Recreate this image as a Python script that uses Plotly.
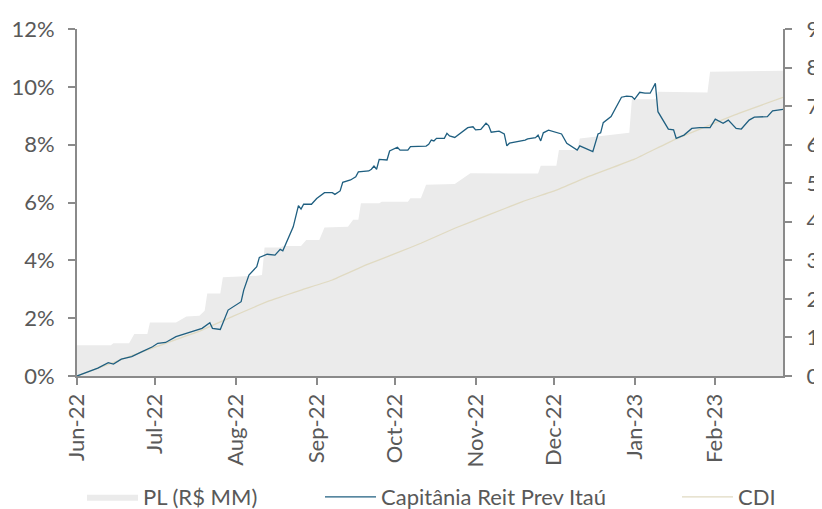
import plotly.graph_objects as go

# ---- data ----
fund_dates = ["2022-06-01","2022-06-09","2022-06-13","2022-06-15","2022-06-18","2022-06-22","2022-06-26","2022-06-30",
              "2022-07-02","2022-07-05","2022-07-09","2022-07-13","2022-07-17","2022-07-19","2022-07-22","2022-07-23",
              "2022-07-26","2022-07-29","2022-08-03","2022-08-04","2022-08-06","2022-08-09","2022-08-10","2022-08-13",
              "2022-08-16","2022-08-18","2022-08-19","2022-08-23","2022-08-25","2022-08-26","2022-08-27","2022-08-30",
              "2022-09-01","2022-09-04","2022-09-07","2022-09-08","2022-09-10","2022-09-11","2022-09-14","2022-09-16",
              "2022-09-17","2022-09-21","2022-09-22","2022-09-23","2022-09-24","2022-09-25","2022-09-28","2022-09-29",
              "2022-10-02","2022-10-03","2022-10-06","2022-10-07","2022-10-13","2022-10-14","2022-10-15","2022-10-16",
              "2022-10-17","2022-10-20","2022-10-21","2022-10-22","2022-10-24","2022-10-29","2022-10-31","2022-11-01",
              "2022-11-03","2022-11-05","2022-11-06","2022-11-07","2022-11-10","2022-11-12","2022-11-13","2022-11-14",
              "2022-11-20","2022-11-21","2022-11-24","2022-11-25","2022-11-26","2022-11-27","2022-11-29","2022-12-04",
              "2022-12-06","2022-12-10","2022-12-11","2022-12-13","2022-12-16","2022-12-18","2022-12-19","2022-12-20",
              "2022-12-23","2022-12-27","2022-12-29","2022-12-31","2023-01-01","2023-01-03","2023-01-05","2023-01-07",
              "2023-01-09","2023-01-10","2023-01-12","2023-01-14","2023-01-16","2023-01-17","2023-01-20","2023-01-23",
              "2023-01-26","2023-01-30","2023-02-01","2023-02-04","2023-02-06","2023-02-09","2023-02-11","2023-02-14",
              "2023-02-16","2023-02-21","2023-02-23","2023-02-27"]
fund_pct = [0.00,0.27,0.46,0.41,0.58,0.67,0.84,1.01,
            1.13,1.16,1.36,1.48,1.61,1.65,1.84,1.65,
            1.61,2.28,2.57,2.97,3.49,3.78,4.10,4.21,
            4.18,4.38,4.33,5.16,5.89,5.77,5.94,5.94,
            6.14,6.34,6.34,6.28,6.40,6.70,6.78,6.89,
            7.06,7.09,7.15,7.26,7.15,7.49,7.47,7.78,
            7.91,7.81,7.81,7.93,7.95,8.01,8.16,8.13,
            8.22,8.22,8.39,8.30,8.25,8.59,8.62,8.51,
            8.53,8.74,8.66,8.43,8.47,8.37,7.96,8.05,
            8.16,8.20,8.24,8.33,8.13,8.41,8.50,8.37,
            8.05,7.81,7.96,7.87,7.76,8.37,8.41,8.76,
            8.97,9.64,9.68,9.66,9.57,9.81,9.78,9.78,
            10.12,9.14,8.85,8.54,8.51,8.22,8.33,8.56,
            8.59,8.59,8.88,8.74,8.85,8.56,8.54,8.85,
            8.95,8.97,9.17,9.22]

cdi_dates = ["2022-06-01","2022-06-13","2022-07-01","2022-07-18","2022-07-31","2022-08-13","2022-08-26",
             "2022-09-07","2022-09-20","2022-10-03","2022-10-11","2022-10-24","2022-11-06","2022-11-19",
             "2022-12-02","2022-12-15","2023-01-01","2023-01-16","2023-02-10","2023-02-27"]
cdi_pct = [0.00,0.40,1.00,1.55,2.07,2.57,2.97,
           3.32,3.84,4.30,4.59,5.11,5.57,6.03,
           6.43,6.92,7.50,8.16,9.08,9.64]

pl_dates = ["2022-06-01","2022-06-14","2022-06-15","2022-06-21","2022-06-23","2022-06-28","2022-06-29",
            "2022-07-09","2022-07-13","2022-07-18","2022-07-20","2022-07-21","2022-07-26","2022-07-27",
            "2022-08-09","2022-08-11","2022-08-12","2022-08-18","2022-08-19","2022-08-26","2022-08-28",
            "2022-09-02","2022-09-04","2022-09-13","2022-09-15","2022-09-17","2022-09-18","2022-09-25",
            "2022-09-26","2022-10-06","2022-10-07","2022-10-11","2022-10-13","2022-10-24","2022-10-30",
            "2022-11-25","2022-11-26","2022-12-02","2022-12-03","2022-12-10","2022-12-11","2022-12-30",
            "2022-12-31","2023-01-09","2023-01-10","2023-01-29","2023-01-30","2023-02-27"]
pl_mm = [0.80,0.80,0.85,0.85,1.09,1.09,1.39,
         1.39,1.54,1.56,1.69,2.14,2.14,2.56,
         2.60,2.62,3.33,3.33,3.37,3.37,3.53,
         3.53,3.85,3.87,4.05,4.05,4.48,4.48,
         4.52,4.52,4.61,4.61,4.96,4.98,5.26,
         5.25,5.45,5.45,5.86,5.86,6.16,6.31,
         7.18,7.18,7.37,7.35,7.89,7.92]

left_ticks = [0, 2, 4, 6, 8, 10, 12]
right_ticks = [0, 1, 2, 3, 4, 5, 6, 7, 8, 9]

# ---- styling ----
FONT = "Lato"
TXT = "#595959"
AX = "#8a8a8a"
OFF = 8                      # default page body margin
W, H = 822 - OFF, 509 - OFF
L, R, T, B = 77 - OFF, 39, 29 - OFF, 133
pw, ph = W - L - R, H - T - B

def px_x(p):                 # page pixel -> paper x
    return (p - OFF - L) / pw

def px_y(p):                 # page pixel -> paper y
    return (H - B - (p - OFF)) / ph

fig = go.Figure()
fig.add_trace(go.Scatter(x=pl_dates, y=pl_mm, name="PL (R$ MM)", mode="lines",
                         line=dict(width=0, color="#ebebeb"), fill="tozeroy",
                         fillcolor="#ebebeb", yaxis="y", legend="legend"))
fig.add_trace(go.Scatter(x=cdi_dates, y=cdi_pct, name="CDI", mode="lines",
                         line=dict(width=1.3, color="#e0dac2", shape="spline", smoothing=0.3),
                         yaxis="y2", legend="legend3"))
fig.add_trace(go.Scatter(x=fund_dates, y=fund_pct, name="Capitânia Reit Prev Itaú", mode="lines",
                         line=dict(width=1.3, color="#1f5f80"), yaxis="y2", legend="legend2"))

axis_common = dict(showline=True, linecolor=AX, linewidth=2, ticks="outside", ticklen=7,
                   tickcolor=AX, tickwidth=1.5, showgrid=False, zeroline=False,
                   tickfont=dict(family=FONT, size=22, color=TXT))

fig.update_layout(
    width=W, height=H, margin=dict(l=L, r=R, t=T, b=B, autoexpand=False),
    paper_bgcolor="white", plot_bgcolor="white",
    font=dict(family=FONT, color=TXT),
    xaxis=dict(type="date", range=["2022-06-01", "2023-02-27"], tick0="2022-06-01", dtick="M1",
               tickformat="%b-%y", tickangle=-90, **axis_common),
    yaxis=dict(side="right", range=[0, 9], tickmode="array", tickvals=right_ticks,
               ticklabelstandoff=10, **axis_common),
    yaxis2=dict(side="left", overlaying="y", range=[0, 12], tickmode="array", tickvals=left_ticks,
                ticktext=[f"{v}%" for v in left_ticks], ticklabelstandoff=9, **axis_common),
    showlegend=True,
)

leg_common = dict(orientation="h", yanchor="middle", xanchor="left", bgcolor="rgba(0,0,0,0)",
                  itemwidth=51, font=dict(family=FONT, size=22, color=TXT))
fig.update_layout(
    legend=dict(x=px_x(82), y=px_y(497), **leg_common),
    legend2=dict(x=px_x(320), y=px_y(497), **leg_common),
    legend3=dict(x=px_x(677), y=px_y(497), **leg_common),
)

fig.write_html("out.html")
